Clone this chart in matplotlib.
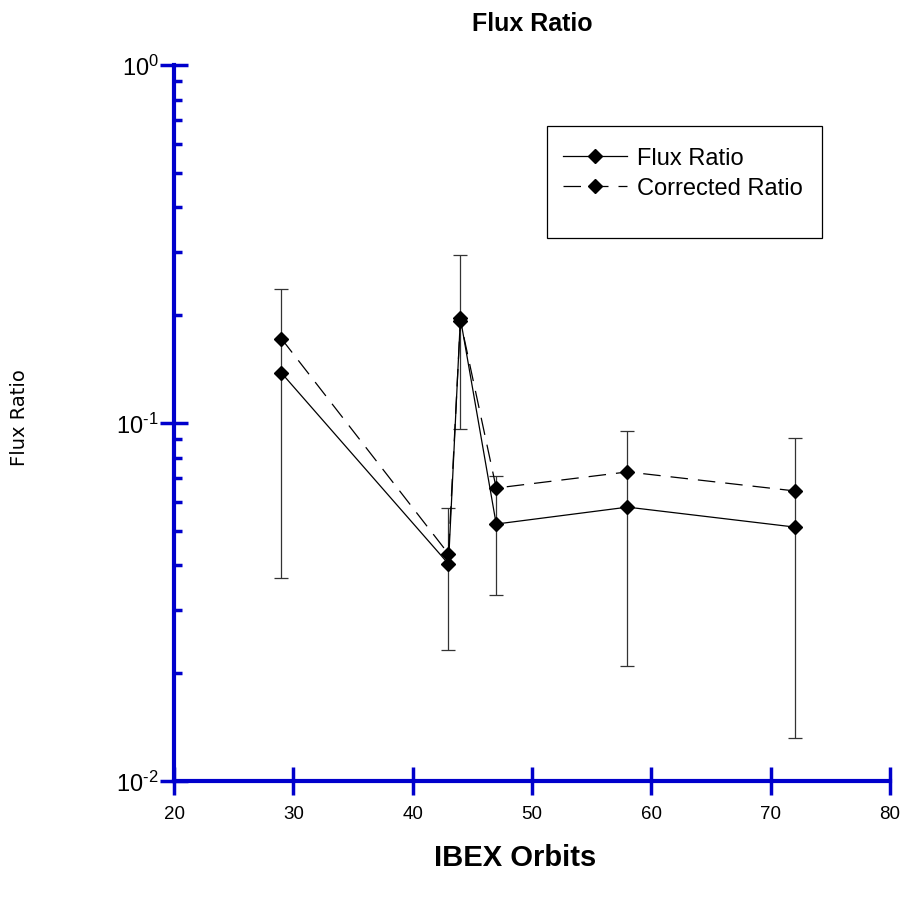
import matplotlib
matplotlib.use("Agg")
import matplotlib.pyplot as plt
from matplotlib.patches import Rectangle
from matplotlib.lines import Line2D
from matplotlib.ticker import FixedLocator, FixedFormatter
import numpy as np

plt.rcParams['font.family'] = ['Liberation Sans', 'DejaVu Sans']
plt.rcParams['mathtext.fontset'] = 'custom'
plt.rcParams['mathtext.rm'] = 'Liberation Sans'
plt.rcParams['mathtext.default'] = 'regular'

# values
orbits = [29, 43, 44, 47, 58, 72]
flux_ratio = [0.138, 0.0404, 0.196, 0.0522, 0.0582, 0.0512]
corrected_ratio = [0.172, 0.0431, 0.193, 0.0658, 0.0730, 0.0646]
err_upper = [0.237, 0.0579, 0.295, 0.0711, 0.095, 0.0908]
err_lower = [0.0369, 0.0232, 0.0962, 0.0331, 0.0210, 0.0132]
y_decades = [0.01, 0.1, 1]
y_tick_labels = [r'10$^{\text{-}2}$', r'10$^{\text{-}1}$', r'10$^{0}$']

axis_blue = '#0000cc'

fig = plt.figure(figsize=(9.04, 9.04), dpi=100)
ax = fig.add_axes([0.1925, 0.135, 0.792, 0.792])

flux = np.array(flux_ratio)
yerr = [flux - np.array(err_lower), np.array(err_upper) - flux]

ax.plot(orbits, corrected_ratio, color='black', linewidth=0.9, dashes=(14, 8),
        marker='D', markersize=7, zorder=3)
ax.errorbar(orbits, flux_ratio, yerr=yerr, fmt='none', ecolor='#333333',
            elinewidth=0.9, capsize=5, capthick=0.9, zorder=2)
ax.plot(orbits, flux_ratio, color='black', linewidth=0.9,
        marker='D', markersize=7, zorder=4)

ax.set_yscale('log')
ax.set_xlim(20, 80)
ax.set_ylim(0.01, 1)
ax.set_xticks(range(20, 81, 10))
ax.yaxis.set_major_locator(FixedLocator(y_decades))
ax.yaxis.set_major_formatter(FixedFormatter(y_tick_labels))

for side in ['top', 'right']:
    ax.spines[side].set_visible(False)
for side in ['left', 'bottom']:
    ax.spines[side].set_color(axis_blue)
    ax.spines[side].set_linewidth(3)

ax.tick_params(axis='x', which='major', direction='inout', length=20, width=2.5,
               color=axis_blue, labelsize=13.5, pad=7)
ax.tick_params(axis='y', which='major', direction='inout', length=20, width=2.5,
               color=axis_blue, labelsize=17, pad=1)
ax.tick_params(axis='y', which='minor', direction='in', length=6, width=2.5,
               color=axis_blue, labelleft=False)

ax.set_title('Flux Ratio', fontsize=18, fontweight='bold', pad=25)
ax.set_xlabel('IBEX Orbits', fontsize=21, fontweight='bold')
ax.xaxis.set_label_coords(0.477, -0.087)
fig.text(0.022, 0.538, 'Flux Ratio', rotation=90, fontsize=14,
         family='DejaVu Sans', ha='center', va='center')

# legend with a plain box that is taller than its entries
ax.add_patch(Rectangle((0.521, 0.758), 0.384, 0.157, transform=ax.transAxes,
                       fill=False, edgecolor='black', linewidth=0.9))
handles = [Line2D([], [], color='black', linewidth=0.9, marker='D', markersize=7),
           Line2D([], [], color='black', linewidth=0.9, marker='D', markersize=7,
                  dashes=(14, 8))]
ax.legend(handles, ['Flux Ratio', 'Corrected Ratio'], loc='upper left',
          bbox_to_anchor=(0.543, 0.885), frameon=False, fontsize=17,
          handlelength=2.7, handletextpad=0.45, labelspacing=0.32,
          borderaxespad=0, borderpad=0)

fig.savefig('out.png', dpi=100)
